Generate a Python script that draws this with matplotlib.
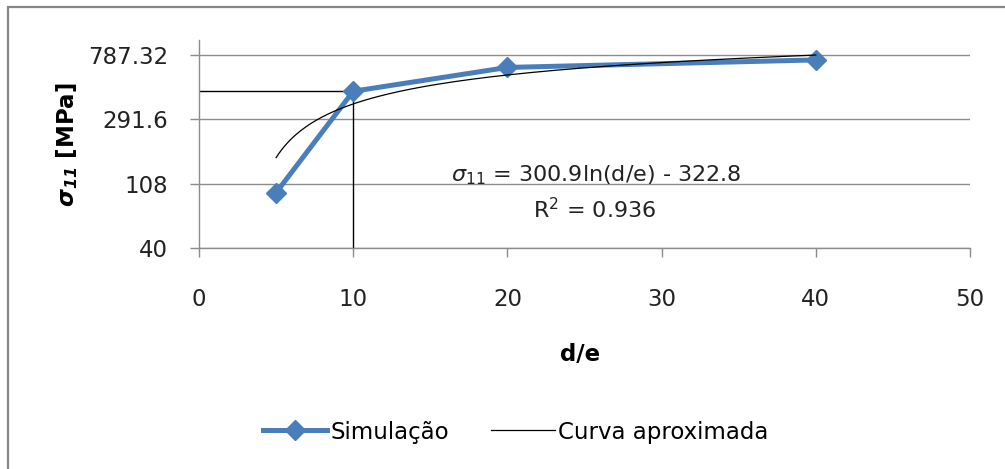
import matplotlib
matplotlib.use("Agg")
import matplotlib.pyplot as plt
from matplotlib.patches import Rectangle
from matplotlib.ticker import NullLocator
import numpy as np

# data
sim_x = [5, 10, 20, 40]
sim_y = [94, 450, 650, 730]
fit_a = 300.9     # sigma11 = a*ln(d/e) + b, as printed on the chart
fit_b = -322.8
fit_r2 = 0.936
y_ticks = [40, 108, 291.6, 787.32]
y_tick_labels = ['40', '108', '291.6', '787.32']
x_ticks = [0, 10, 20, 30, 40, 50]

BLUE = '#4A7EBB'
GRID = '#8C8C8C'
FS = 16.5

plt.rcParams['font.family'] = ['DejaVu Sans']
plt.rcParams['mathtext.fontset'] = 'custom'
plt.rcParams['mathtext.rm'] = 'DejaVu Sans'
plt.rcParams['mathtext.it'] = 'DejaVu Sans:italic'
plt.rcParams['mathtext.bf'] = 'DejaVu Sans:bold'
plt.rcParams['mathtext.bfit'] = 'DejaVu Sans:italic:bold'

fig = plt.figure(figsize=(10.05, 4.69), dpi=100)
W, H = 1005, 469
ax = fig.add_axes([199 / W, 1 - 248 / H, (970 - 199) / W, (248 - 40) / H])

# outer chart border (only top and left visible in the crop)
fig.add_artist(Rectangle((8 / W, -0.2), 1.2, 1.2 - 7 / H, transform=fig.transFigure,
                         fill=False, edgecolor='#868686', linewidth=1.6))

# simulation series
ax.plot(sim_x, sim_y, color=BLUE, linewidth=3.6, marker='D', markersize=10,
        markerfacecolor=BLUE, markeredgecolor=BLUE, zorder=3, label='Simulação')

# logarithmic trend line
xf = np.linspace(sim_x[0], sim_x[-1], 200)
ax.plot(xf, fit_a * np.log(xf) + fit_b, color='black', linewidth=0.9, zorder=4,
        label='Curva aproximada')

# guide lines to the d/e = 10 point
ax.plot([0, sim_x[1]], [sim_y[1], sim_y[1]], color='black', linewidth=1.0, zorder=2)
ax.plot([sim_x[1], sim_x[1]], [40, sim_y[1]], color='black', linewidth=1.0, zorder=2)

ax.set_yscale('log')
ax.set_ylim(40, 993)
ax.set_xlim(0, 50)
ax.set_yticks(y_ticks)
ax.set_yticklabels(y_tick_labels)
ax.yaxis.set_minor_locator(NullLocator())
ax.set_xticks(x_ticks)

ax.yaxis.grid(True, color=GRID, linewidth=1.0)
ax.set_axisbelow(True)
for s in ['top', 'right']:
    ax.spines[s].set_visible(False)
for s in ['left', 'bottom']:
    ax.spines[s].set_color(GRID)
    ax.spines[s].set_linewidth(1.0)

ax.tick_params(axis='y', length=6.5, width=1, color=GRID, pad=16, labelsize=FS, labelcolor='#222222')
ax.tick_params(axis='x', length=6.5, width=1, color=GRID, pad=22, labelsize=FS, labelcolor='#222222')

ax.set_xlabel('d/e', fontsize=FS, fontweight='bold')
ax.xaxis.set_label_coords(0.494, -0.457)
ax.set_ylabel(r'$\mathbfit{\sigma}_{\mathbfit{11}}$ [MPa]', fontsize=FS, fontweight='bold')
ax.yaxis.set_label_coords(-0.154, 0.495)

# equation and R^2
ax.text((596 - 199) / 771, (248 - 175) / 208,
        r'$\mathit{\sigma}_{\mathit{11}}$' + ' = 300.9ln(d/e) - 322.8',
        transform=ax.transAxes, ha='center', va='center', fontsize=FS - 0.5, color='#222222')
ax.text((595 - 199) / 771, (248 - 210) / 208, r'R$^2$ = ' + f'{fit_r2:.3f}',
        transform=ax.transAxes, ha='center', va='center', fontsize=FS - 0.5, color='#222222')

fig.legend(loc='center', bbox_to_anchor=(516 / W, 1 - 432 / H), ncol=2, frameon=False,
           fontsize=FS, handlelength=2.8, handletextpad=0.15, columnspacing=1.8)

fig.savefig('out.png', dpi=100, facecolor='white')
